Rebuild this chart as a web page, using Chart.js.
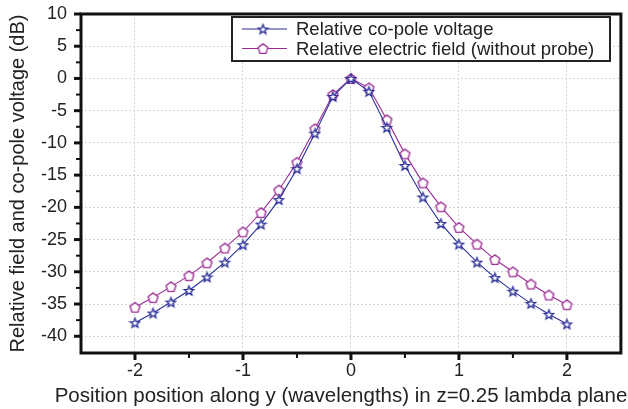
<!DOCTYPE html>
<html>
<head>
<meta charset="utf-8">
<script src="https://cdn.jsdelivr.net/npm/chart.js@4.4.1/dist/chart.umd.min.js"></script>
<style>
  html, body { margin: 0; padding: 0; background: #fff; }
  #wrap { width: 628px; height: 409px; position: relative; }
</style>
</head>
<body>
<div id="wrap"><canvas id="fieldChart" width="628" height="409"></canvas></div>
<script>
// position along y, in wavelengths
const positions = [-2, -1.833, -1.667, -1.5, -1.333, -1.167, -1, -0.833, -0.667, -0.5, -0.333, -0.167, 0,
  0.167, 0.333, 0.5, 0.667, 0.833, 1, 1.167, 1.333, 1.5, 1.667, 1.833, 2];

// relative co-pole voltage (dB)
const copoleVoltage = [-37.9, -36.4, -34.7, -32.9, -30.8, -28.5, -25.8, -22.6, -18.8, -14.0, -8.5, -2.8, 0,
  -2.0, -7.6, -13.5, -18.4, -22.5, -25.7, -28.5, -30.9, -33.0, -34.9, -36.6, -38.1];

// relative electric field without probe (dB)
const electricField = [-35.5, -34.0, -32.3, -30.6, -28.6, -26.3, -23.8, -20.8, -17.3, -13.0, -7.8, -2.5, 0,
  -1.45, -6.4, -11.7, -16.2, -19.9, -23.1, -25.7, -28.1, -30.0, -31.9, -33.6, -35.1];

const xTickValues = [-2, -1, 0, 1, 2];
const yTickValues = [-40, -35, -30, -25, -20, -15, -10, -5, 0, 5, 10];

const seriesNames = ['Relative co-pole voltage', 'Relative electric field (without probe)'];
const xTitle = 'Position position along y (wavelengths) in z=0.25 lambda plane';
const yTitle = 'Relative field and co-pole voltage (dB)';

const BLUE = '#2a2f98';
const PURPLE = '#9a2c94';
const FONT = '"Liberation Sans", Arial, sans-serif';

// outlined marker images
function markerCanvas(kind, color) {
  const size = 13;
  const c = document.createElement('canvas');
  c.width = size; c.height = size;
  const g = c.getContext('2d');
  const cx = size / 2, cy = size / 2;
  g.beginPath();
  if (kind === 'star') {
    const ro = 5.0, ri = 2.1;
    for (let i = 0; i < 10; i++) {
      const r = i % 2 === 0 ? ro : ri;
      const a = -Math.PI / 2 + i * Math.PI / 5;
      const px = cx + r * Math.cos(a), py = cy + 0.5 + r * Math.sin(a);
      i === 0 ? g.moveTo(px, py) : g.lineTo(px, py);
    }
  } else {
    const r = 5.2;
    for (let i = 0; i < 5; i++) {
      const a = -Math.PI / 2 + i * 2 * Math.PI / 5;
      const px = cx + r * Math.cos(a), py = cy + 0.6 + r * Math.sin(a);
      i === 0 ? g.moveTo(px, py) : g.lineTo(px, py);
    }
  }
  g.closePath();
  g.fillStyle = '#fff';
  g.fill();
  g.lineWidth = 1.3;
  g.strokeStyle = color;
  g.stroke();
  return c;
}

const starImg = markerCanvas('star', BLUE);
const pentImg = markerCanvas('pent', PURPLE);

// frame, major/minor ticks, x title
const framePlugin = {
  id: 'frame',
  afterDraw(chart) {
    const { ctx, chartArea: a, scales: { x, y } } = chart;
    ctx.save();
    ctx.strokeStyle = '#111';
    ctx.lineCap = 'butt';
    // minor ticks
    ctx.lineWidth = 2;
    for (let v = -1.5; v <= 1.5; v += 1) {
      const px = x.getPixelForValue(v);
      ctx.beginPath(); ctx.moveTo(px, a.bottom); ctx.lineTo(px, a.bottom + 5); ctx.stroke();
    }
    for (let v = -37.5; v < 10; v += 5) {
      const py = y.getPixelForValue(v);
      ctx.beginPath(); ctx.moveTo(a.left, py); ctx.lineTo(a.left - 5, py); ctx.stroke();
    }
    // major ticks
    ctx.lineWidth = 3;
    x.ticks.forEach(t => {
      const px = x.getPixelForValue(t.value);
      ctx.beginPath(); ctx.moveTo(px, a.bottom); ctx.lineTo(px, a.bottom + 7); ctx.stroke();
    });
    y.ticks.forEach(t => {
      const py = y.getPixelForValue(t.value);
      ctx.beginPath(); ctx.moveTo(a.left, py); ctx.lineTo(a.left - 7, py); ctx.stroke();
    });
    // box
    ctx.lineWidth = 3;
    ctx.strokeRect(a.left, a.top, a.right - a.left, a.bottom - a.top);

    // x axis title, slightly left of the plot centre
    ctx.fillStyle = '#222';
    ctx.font = '20.5px ' + FONT;
    ctx.textAlign = 'center';
    ctx.textBaseline = 'alphabetic';
    ctx.fillText(xTitle, 341, 401.5);
    ctx.restore();
  }
};

// boxed legend with line + marker samples
const legendPlugin = {
  id: 'boxLegend',
  afterDraw(chart) {
    const ctx = chart.ctx;
    const bx = 232, by = 17, bw = 378, bh = 44;
    ctx.save();
    ctx.fillStyle = '#fff';
    ctx.fillRect(bx, by, bw, bh);
    ctx.lineWidth = 2;
    ctx.strokeStyle = '#222';
    ctx.strokeRect(bx, by, bw, bh);
    ctx.font = '18.5px ' + FONT;
    ctx.textBaseline = 'middle';
    chart.data.datasets.forEach((ds, i) => {
      const ry = by + 12 + i * 19.5;
      ctx.strokeStyle = ds.borderColor;
      ctx.lineWidth = 1.2;
      ctx.beginPath(); ctx.moveTo(bx + 10, ry); ctx.lineTo(bx + 55, ry); ctx.stroke();
      const img = ds.pointStyle;
      ctx.drawImage(img, bx + 31 - img.width / 2, ry - img.height / 2);
      ctx.fillStyle = '#222';
      ctx.fillText(ds.label, bx + 64, ry + 1);
    });
    ctx.restore();
  }
};

const ctx = document.getElementById('fieldChart').getContext('2d');
new Chart(ctx, {
  type: 'line',
  data: {
    datasets: [
      {
        label: seriesNames[0],
        data: positions.map((p, i) => ({ x: p, y: copoleVoltage[i] })),
        borderColor: BLUE,
        borderWidth: 1.1,
        pointStyle: starImg,
        pointRadius: 6,
        tension: 0
      },
      {
        label: seriesNames[1],
        data: positions.map((p, i) => ({ x: p, y: electricField[i] })),
        borderColor: PURPLE,
        borderWidth: 1.1,
        pointStyle: pentImg,
        pointRadius: 6,
        tension: 0
      }
    ]
  },
  options: {
    responsive: false,
    animation: false,
    layout: { padding: { top: 14, right: 7, left: 0, bottom: 0 } },
    plugins: {
      legend: { display: false },
      tooltip: { enabled: false }
    },
    scales: {
      x: {
        type: 'linear',
        min: -2.5,
        max: 2.5,
        afterBuildTicks: s => { s.ticks = xTickValues.map(v => ({ value: v })); },
        afterFit: s => { s.height = 56; s.paddingLeft = 0; s.paddingRight = 0; },
        ticks: {
          color: '#222',
          font: { family: FONT, size: 18 },
          padding: 7,
          maxRotation: 0
        },
        grid: { color: '#d4d4d4', lineWidth: 1, drawTicks: false },
        border: { display: false, dash: [2, 2] },
        title: { display: false }
      },
      y: {
        min: -42.6,
        max: 10,
        afterBuildTicks: s => { s.ticks = yTickValues.map(v => ({ value: v })); },
        afterFit: s => { s.width = 81; s.paddingTop = 0; s.paddingBottom = 0; },
        ticks: {
          color: '#222',
          font: { family: FONT, size: 18 },
          padding: 14
        },
        grid: { color: '#d4d4d4', lineWidth: 1, drawTicks: false },
        border: { display: false, dash: [2, 2] },
        title: {
          display: true,
          text: yTitle,
          color: '#222',
          font: { family: FONT, size: 20 },
          padding: { top: 6, bottom: 0 }
        }
      }
    }
  },
  plugins: [framePlugin, legendPlugin]
});
</script>
</body>
</html>
